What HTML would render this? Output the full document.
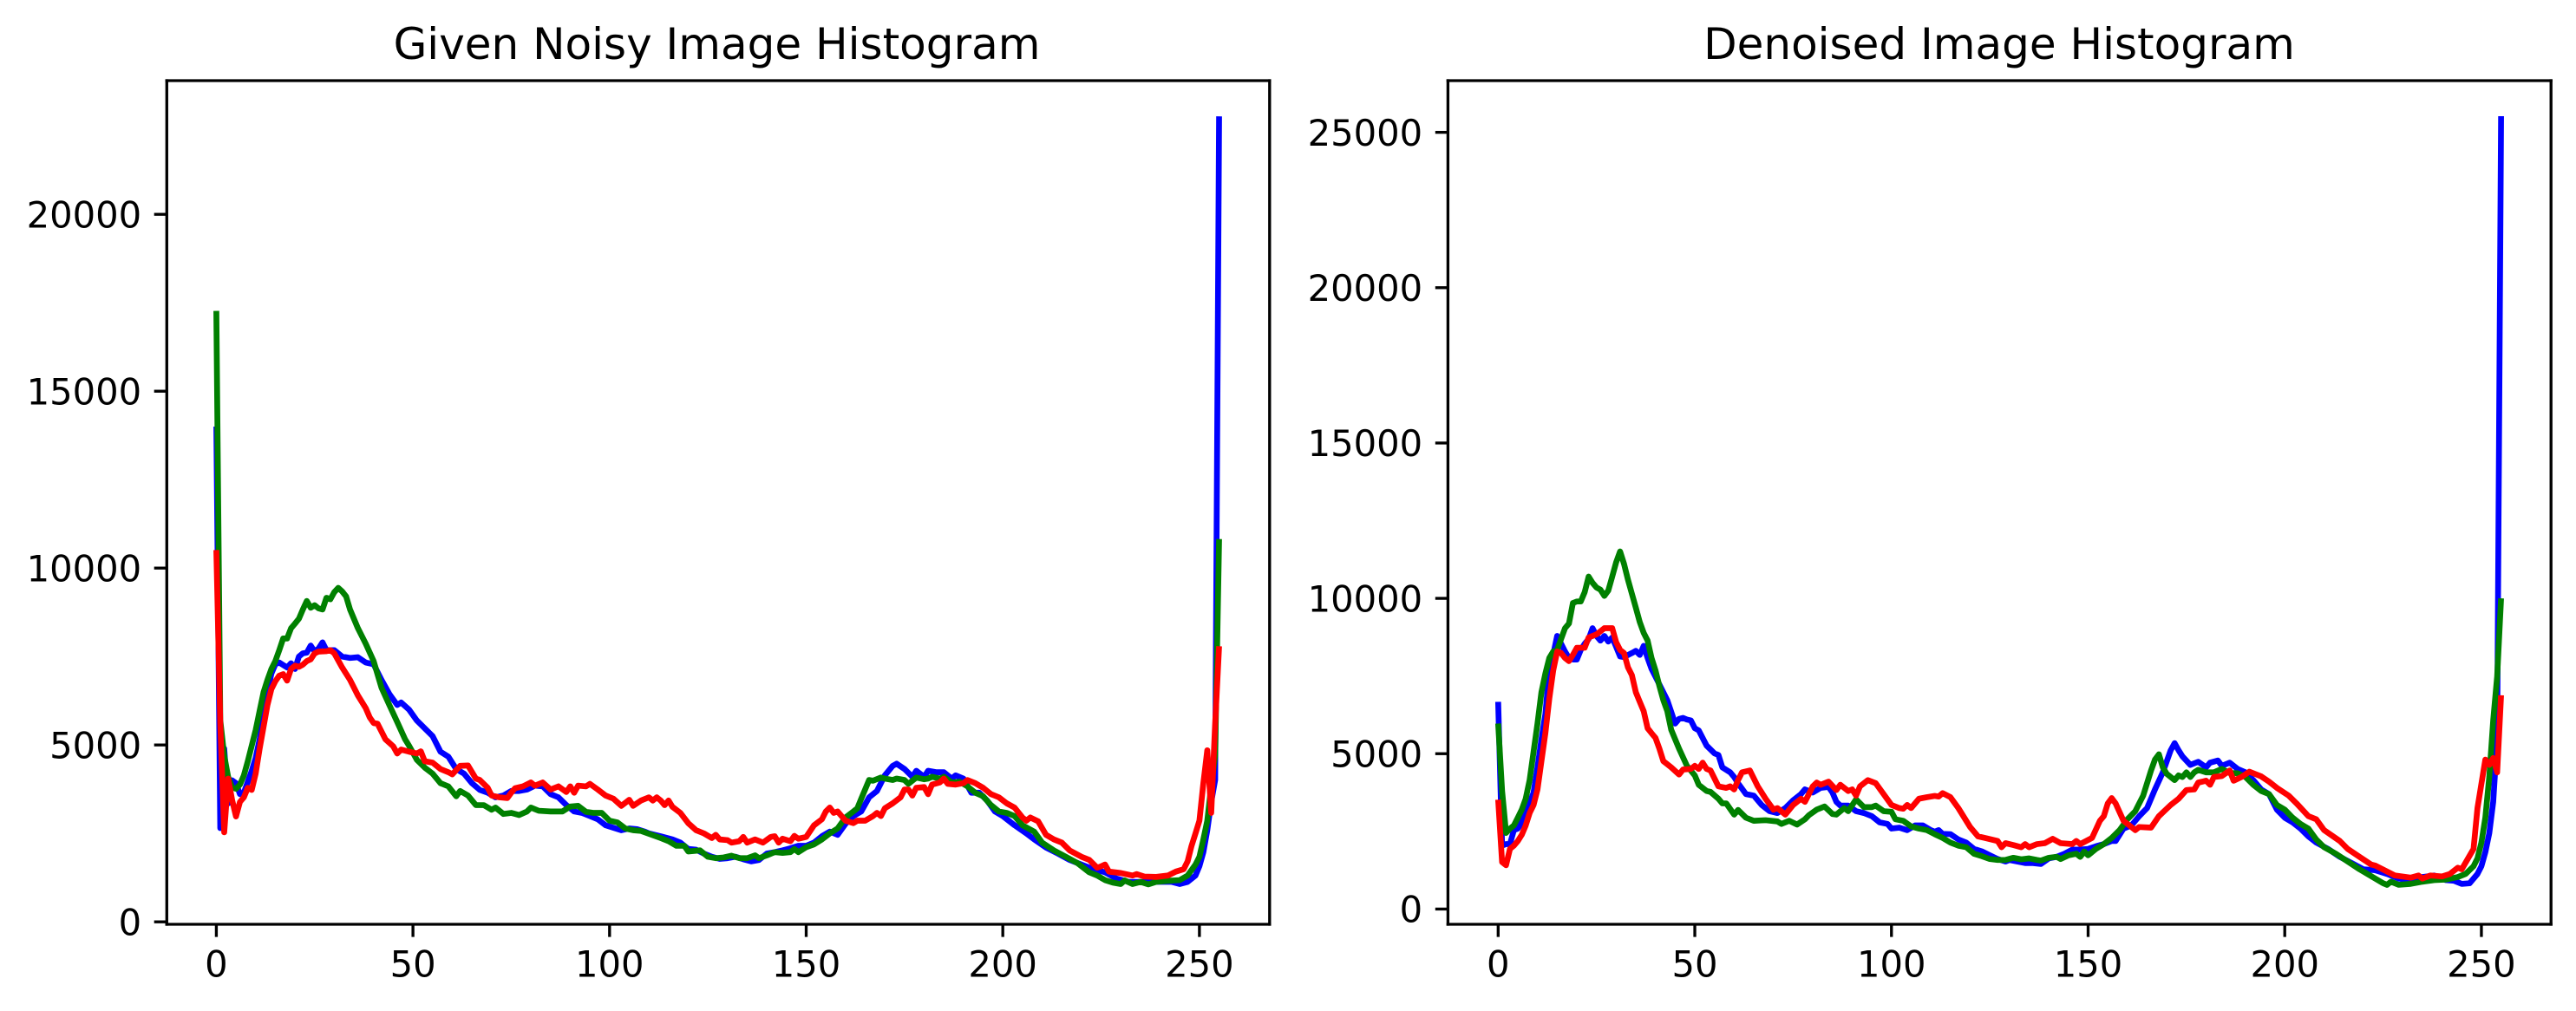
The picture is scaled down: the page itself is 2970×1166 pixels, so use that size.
<!DOCTYPE html>
<html lang="en">
<head>
<meta charset="utf-8">
<title>Image Histograms</title>
<style>
html,body{margin:0;padding:0;background:#fff;width:2970px;height:1166px;overflow:hidden}
svg{display:block}
text{font-family:"DejaVu Sans","Liberation Sans",sans-serif;fill:#000}
.tick-label{font-size:41.67px}
.panel-title{font-size:50px;text-anchor:middle}
</style>
</head>
<body>
<svg id="figure" xmlns="http://www.w3.org/2000/svg" width="2970" height="1166" viewBox="0 0 2970 1166">
  <rect x="0" y="0" width="2970" height="1166" fill="#ffffff"/>
  <text class="panel-title" x="826.5" y="68">Given Noisy Image Histogram</text>
  <text class="panel-title" x="2305" y="68">Denoised Image Histogram</text>
  <g id="noisy-panel"></g>
  <g id="denoised-panel"></g>
</svg>
<script>
// ---------- shared tick labels ----------
const xTickLabels = [0, 50, 100, 150, 200, 250];
const noisyYTickLabels = [0, 5000, 10000, 15000, 20000];
const denoisedYTickLabels = [0, 5000, 10000, 15000, 20000, 25000];

// ---------- Given Noisy Image Histogram ----------
const noisyBlueBins = [
0,1,2,3,4,5,6,7,8,9,
10,11,12,13,14,15,16,18,19,20,
21,22,23,24,25,26,27,28,30,32,
34,36,38,40,42,44,46,47,49,51,
53,55,57,59,61,63,65,67,69,71,
73,75,77,79,81,83,85,87,89,91,
93,95,97,99,101,103,105,107,109,110,
113,116,118,120,122,124,126,128,130,132,
134,136,138,140,142,144,146,148,150,152,
154,156,158,160,162,164,166,168,170,172,
173,175,177,178,180,181,183,185,187,188,
190,192,194,196,198,200,203,206,208,211,
214,217,220,223,226,229,232,235,238,241,
243,245,247,249,250,251,252,253,254,255];
const noisyBlueCounts = [
14000,2650,4900,3350,4000,3920,3610,3650,3960,4270,
4630,5160,5780,6490,7020,7280,7330,7190,7310,7150,
7500,7590,7610,7810,7640,7730,7900,7680,7680,7500,
7460,7480,7330,7280,6840,6440,6130,6200,6000,5690,
5470,5250,4810,4670,4320,4190,3920,3730,3650,3520,
3570,3700,3700,3740,3850,3830,3610,3520,3300,3120,
3080,2990,2900,2730,2660,2590,2640,2620,2550,2500,
2420,2330,2240,2060,2040,1930,1840,1780,1800,1840,
1770,1710,1750,1930,1970,2020,2080,2150,2150,2240,
2420,2550,2460,2770,2990,3120,3520,3700,4140,4410,
4470,4320,4100,4270,4100,4270,4230,4230,4050,4140,
4050,3650,3650,3430,3120,2990,2730,2500,2330,2100,
1930,1750,1620,1490,1400,1220,1130,1130,1130,1130,
1130,1070,1130,1310,1575,1970,2590,3390,4010,22770];

const noisyGreenBins = [
0,1,2,3,4,5,6,7,8,9,
10,11,12,13,14,15,16,17,18,19,
20,21,22,23,24,25,26,27,28,29,
30,31,32,33,34,36,38,40,42,44,
46,48,49,51,53,55,57,59,61,62,
64,66,68,70,71,73,75,77,79,80,
82,85,88,90,92,94,96,98,100,102,
104,106,108,110,113,115,117,119,120,123,
125,127,129,131,133,135,137,138,140,142,
144,146,147,148,150,152,154,156,158,160,
162,163,164,166,167,169,170,172,173,175,
176,178,180,181,182,184,185,187,189,191,
193,195,197,199,201,203,205,208,210,213,
216,219,222,224,226,228,230,231,233,235,
237,239,242,245,247,249,250,251,252,253,
254,255];
const noisyGreenCounts = [
17270,5700,4700,4100,3800,3760,3880,4140,4540,4980,
5420,5960,6490,6840,7150,7370,7680,8010,8010,8300,
8430,8570,8830,9070,8880,8950,8860,8830,9160,9120,
9320,9440,9340,9200,8830,8300,7860,7370,6620,6130,
5650,5160,4980,4580,4360,4190,3920,3830,3550,3700,
3570,3300,3300,3170,3230,3050,3080,3020,3120,3230,
3140,3120,3120,3260,3280,3110,3080,3080,2860,2810,
2640,2590,2570,2490,2370,2280,2150,2150,1990,2020,
1840,1800,1820,1870,1800,1800,1880,1800,1880,1970,
1950,1970,2060,1970,2110,2190,2330,2500,2640,2950,
3120,3210,3480,4010,3990,4080,4050,4010,4050,4010,
3900,4080,4030,4050,4100,4050,4100,3940,3960,3830,
3650,3550,3300,3120,3080,2990,2730,2550,2240,2020,
1840,1660,1400,1310,1180,1110,1070,1170,1070,1130,
1060,1130,1160,1180,1310,1620,1840,2330,2860,3830,
4700,10820];

const noisyRedBins = [
0,1,2,3,4,5,6,7,8,9,
10,11,12,13,14,15,16,17,18,19,
20,21,22,23,24,25,26,28,29,30,
32,34,36,38,39,40,41,43,45,46,
47,49,51,52,53,55,57,59,60,62,
64,66,67,69,70,72,74,75,76,78,
80,81,83,85,87,89,90,91,92,94,
95,97,99,101,103,105,106,108,110,111,
112,113,114,115,116,118,120,122,124,126,
127,128,130,131,133,134,135,137,139,141,
142,143,144,146,147,148,150,152,154,155,
156,157,158,160,162,163,165,167,168,169,
170,172,174,175,176,177,178,180,181,182,
184,185,186,188,190,191,193,195,197,199,
201,203,205,206,207,209,211,213,215,217,
220,222,224,225,226,227,230,233,234,236,
239,242,244,246,247,248,249,250,251,252,
253,254,255];
const noisyRedCounts = [
10510,5600,2530,4050,3450,2980,3390,3520,3790,3730,
4190,4890,5510,6130,6580,6800,6960,7000,6820,7150,
7240,7210,7270,7370,7420,7590,7640,7650,7680,7590,
7190,6840,6400,6040,5780,5620,5600,5160,4960,4760,
4870,4810,4760,4820,4540,4500,4320,4230,4170,4410,
4420,4050,4010,3790,3570,3520,3500,3650,3780,3830,
3940,3850,3940,3740,3830,3670,3830,3650,3850,3830,
3900,3740,3570,3480,3280,3450,3280,3430,3520,3430,
3520,3430,3300,3430,3250,3080,2790,2590,2500,2370,
2460,2330,2310,2240,2280,2400,2240,2330,2240,2400,
2420,2240,2350,2280,2430,2350,2400,2730,2900,3120,
3230,3080,3120,2860,2790,2860,2860,2990,3080,2990,
3210,3350,3520,3740,3740,3570,3790,3810,3610,3880,
3940,4050,3900,3880,3920,4010,3920,3790,3610,3520,
3350,3230,2950,2860,2950,2840,2460,2330,2240,2020,
1840,1750,1530,1570,1620,1420,1380,1310,1350,1280,
1270,1310,1420,1490,1710,2150,2500,2860,3920,4850,
3080,5600,7790];

// ---------- Denoised Image Histogram ----------
const denoisedBlueBins = [
0,1,2,3,4,5,6,7,8,9,
10,11,12,13,14,15,16,17,18,19,
20,21,22,23,24,25,26,27,28,29,
30,31,32,34,35,36,37,38,39,40,
43,45,46,47,48,49,50,51,53,55,
56,57,59,60,61,63,65,67,69,71,
73,75,77,78,80,82,84,85,86,87,
89,91,93,95,97,99,100,102,104,106,
108,110,111,112,113,115,117,119,121,123,
125,127,129,130,132,134,136,138,140,142,
144,146,148,150,152,154,156,157,159,161,
163,165,167,169,171,172,173,174,176,178,
180,181,183,184,186,188,190,192,194,196,
198,200,202,204,206,208,211,214,217,220,
223,226,229,232,235,238,241,243,245,247,
248,249,250,251,252,253,254,255];
const denoisedBlueCounts = [
6670,2040,2090,2090,2540,2590,2790,3150,3400,3750,
4560,5460,6270,7680,8190,8790,8540,8290,8080,8030,
8030,8340,8540,8690,9040,8790,8640,8790,8610,8740,
8440,8130,8110,8240,8310,8180,8470,8080,7730,7480,
6720,5970,6120,6150,6100,6070,5820,5750,5260,5010,
4960,4560,4400,4250,4050,3700,3650,3350,3150,3090,
3250,3500,3700,3850,3750,3900,3930,3750,3450,3330,
3330,3150,3090,2990,2790,2740,2590,2620,2540,2690,
2690,2540,2490,2540,2420,2410,2240,2140,1935,1855,
1730,1610,1530,1580,1530,1480,1480,1450,1630,1680,
1780,1915,1915,1935,2020,2090,2190,2190,2590,2690,
2990,3250,3850,4400,5110,5340,5110,4910,4640,4740,
4560,4710,4780,4610,4710,4510,4400,4150,3850,3700,
3200,2940,2790,2590,2340,2140,1935,1680,1480,1280,
1250,1130,980,930,1030,1080,930,910,810,830,
980,1130,1380,1830,2440,3450,5460,25520];

const denoisedGreenBins = [
0,1,2,3,4,5,6,7,8,9,
10,11,12,13,14,15,16,17,18,19,
20,21,22,23,24,25,26,27,28,29,
30,31,32,33,34,35,36,37,38,39,
40,41,42,43,44,46,48,50,51,53,
54,56,57,58,60,61,63,65,68,71,
72,74,76,78,79,81,83,85,86,88,
89,91,93,95,96,98,100,101,103,105,
107,109,111,113,115,117,119,121,123,125,
127,129,131,133,135,137,138,140,142,143,
145,147,148,149,150,152,154,156,158,160,
162,164,166,167,168,169,170,172,173,174,
175,176,177,178,180,182,184,186,188,190,
192,194,196,198,200,202,204,206,208,210,
213,216,219,221,223,225,226,227,229,232,
235,238,241,244,246,248,249,250,251,252,
253,254,255];
const denoisedGreenCounts = [
5970,3800,2450,2590,2690,2940,3200,3550,4150,5060,
5970,6980,7580,8080,8290,8340,8690,9040,9190,9850,
9900,9900,10200,10700,10500,10350,10280,10080,10250,10700,
11160,11510,11110,10600,10150,9700,9240,8890,8640,8080,
7680,7180,6720,6370,5770,5160,4610,4300,4000,3800,
3770,3550,3400,3400,3040,3190,2940,2840,2860,2820,
2740,2840,2720,2890,3020,3200,3300,3060,3040,3250,
3150,3530,3280,3280,3330,3150,3130,2890,2840,2660,
2590,2540,2410,2290,2140,2040,1990,1780,1700,1610,
1580,1580,1650,1600,1630,1580,1560,1650,1680,1610,
1730,1780,1680,1850,1730,1935,2090,2290,2540,2890,
3150,3650,4460,4810,4980,4560,4350,4150,4300,4250,
4400,4250,4400,4480,4400,4400,4510,4380,4370,4250,
4000,3800,3700,3350,3200,2940,2740,2590,2240,1990,
1780,1530,1280,1130,980,830,780,880,780,810,
880,930,950,1030,1130,1380,1630,2140,2940,4250,
6070,7480,10000];

const denoisedRedBins = [
0,1,2,3,4,5,6,7,8,9,
10,11,12,13,14,15,16,17,18,19,
20,22,23,25,26,27,29,30,31,32,
33,34,35,36,37,38,39,40,41,42,
43,44,46,47,49,50,51,52,53,54,
56,58,59,60,61,62,64,66,68,70,
71,73,75,77,78,80,81,82,84,86,
87,89,90,91,92,94,96,98,100,102,
103,104,105,107,109,111,112,113,115,117,
120,122,127,128,129,131,133,134,135,137,
139,141,143,146,147,148,151,153,154,155,
156,157,159,162,163,166,168,171,173,175,
177,178,180,181,182,184,186,187,189,191,
194,196,198,201,203,206,208,210,214,216,
219,222,223,228,232,234,235,237,240,242,
244,245,248,249,251,252,253,254,255];
const denoisedRedCounts = [
3520,1510,1410,1935,2040,2190,2390,2690,3090,3350,
3850,4760,5660,6770,7680,8290,8240,8080,7980,8180,
8410,8410,8740,8840,8940,9040,9040,8590,8340,8240,
7780,7530,6980,6670,6370,5820,5660,5510,5160,4760,
4660,4560,4330,4490,4510,4610,4510,4710,4510,4460,
3950,3900,3950,3850,4150,4400,4460,3950,3550,3200,
3250,3040,3350,3550,3450,3950,4070,4000,4100,3830,
4000,3800,3850,3650,3950,4150,4050,3700,3350,3250,
3230,3350,3250,3550,3600,3640,3620,3730,3600,3250,
2640,2340,2190,1990,2120,2060,1990,2090,1990,2090,
2120,2260,2120,2090,2190,2090,2290,2840,2990,3400,
3570,3400,2840,2540,2640,2620,2990,3350,3550,3830,
3850,4070,4130,4000,4250,4280,4460,4130,4250,4420,
4270,4100,3900,3650,3400,2990,2890,2540,2190,1935,
1680,1430,1400,1080,1010,1080,980,1080,1050,1130,
1330,1280,1935,3250,4810,4640,4860,4400,6880];

const SVG_NS = 'http://www.w3.org/2000/svg';
const TICK_LENGTH = 14.6;
const TICK_PAD = 14.6;
const SPINE_WIDTH = 3.33;
const LINE_WIDTH = 6.7;

function linearScale(domainLow, domainHigh, pixelLow, pixelHigh) {
  return function (value) {
    return pixelLow + (value - domainLow) * (pixelHigh - pixelLow) / (domainHigh - domainLow);
  };
}

function addLine(parent, x1, y1, x2, y2) {
  const el = document.createElementNS(SVG_NS, 'line');
  el.setAttribute('x1', x1);
  el.setAttribute('y1', y1);
  el.setAttribute('x2', x2);
  el.setAttribute('y2', y2);
  el.setAttribute('stroke', '#000000');
  el.setAttribute('stroke-width', SPINE_WIDTH);
  parent.appendChild(el);
  return el;
}

function addLabel(parent, x, y, anchor, content) {
  const el = document.createElementNS(SVG_NS, 'text');
  el.setAttribute('class', 'tick-label');
  el.setAttribute('x', x);
  el.setAttribute('y', y);
  el.setAttribute('text-anchor', anchor);
  el.textContent = content;
  parent.appendChild(el);
  return el;
}

function drawAxes(panel, box, xScale, yScale, yTicks) {
  for (const value of xTickLabels) {
    const px = xScale(value);
    const tick = addLine(panel, px, box.bottom, px, box.bottom + TICK_LENGTH);
    
    
    const label = addLabel(panel, px, box.bottom + TICK_LENGTH + TICK_PAD + 31.4, 'middle', String(value));
    
    
  }
  for (const value of yTicks) {
    const py = yScale(value);
    const tick = addLine(panel, box.left - TICK_LENGTH, py, box.left, py);
    
    
    const label = addLabel(panel, box.left - TICK_LENGTH - TICK_PAD, py + 15.2, 'end', String(value));
    
    
  }
}

function drawSeries(panel, name, color, bins, counts, xScale, yScale) {
  const points = bins.map(function (bin, i) {
    return xScale(bin).toFixed(2) + ',' + yScale(counts[i]).toFixed(2);
  });
  const el = document.createElementNS(SVG_NS, 'polyline');
  el.setAttribute('points', points.join(' '));
  el.setAttribute('fill', 'none');
  el.setAttribute('stroke', color);
  el.setAttribute('stroke-width', LINE_WIDTH);
  el.setAttribute('stroke-linejoin', 'round');
  el.setAttribute('stroke-linecap', 'butt');
  
  
  panel.appendChild(el);
}

function drawSpines(panel, box) {
  const half = SPINE_WIDTH / 2;
  const left = addLine(panel, box.left, box.top - half, box.left, box.bottom + half);
  
  
  const right = addLine(panel, box.right, box.top - half, box.right, box.bottom + half);
  
  
  const top = addLine(panel, box.left - half, box.top, box.right + half, box.top);
  
  
  const bottom = addLine(panel, box.left - half, box.bottom, box.right + half, box.bottom);
  
  
}

// Noisy panel
(function () {
  const panel = document.getElementById('noisy-panel');
  const box = { left: 192.3, right: 1463.8, top: 93, bottom: 1066 };
  const xScale = linearScale(-12.6, 267.85, box.left, box.right);
  const yScale = linearScale(-69, 23779, box.bottom, box.top);
  drawSeries(panel, 'noisy-blue-channel-line', '#0000ff', noisyBlueBins, noisyBlueCounts, xScale, yScale);
  drawSeries(panel, 'noisy-green-channel-line', '#008000', noisyGreenBins, noisyGreenCounts, xScale, yScale);
  drawSeries(panel, 'noisy-red-channel-line', '#ff0000', noisyRedBins, noisyRedCounts, xScale, yScale);
  drawAxes(panel, box, xScale, yScale, noisyYTickLabels);
  drawSpines(panel, box);
})();

// Denoised panel
(function () {
  const panel = document.getElementById('denoised-panel');
  const box = { left: 1669.4, right: 2941.2, top: 93, bottom: 1066 };
  const xScale = linearScale(-12.77, 267.7, box.left, box.right);
  const yScale = linearScale(-491, 26664, box.bottom, box.top);
  drawSeries(panel, 'denoised-blue-channel-line', '#0000ff', denoisedBlueBins, denoisedBlueCounts, xScale, yScale);
  drawSeries(panel, 'denoised-green-channel-line', '#008000', denoisedGreenBins, denoisedGreenCounts, xScale, yScale);
  drawSeries(panel, 'denoised-red-channel-line', '#ff0000', denoisedRedBins, denoisedRedCounts, xScale, yScale);
  drawAxes(panel, box, xScale, yScale, denoisedYTickLabels);
  drawSpines(panel, box);
})();
</script>
</body>
</html>
